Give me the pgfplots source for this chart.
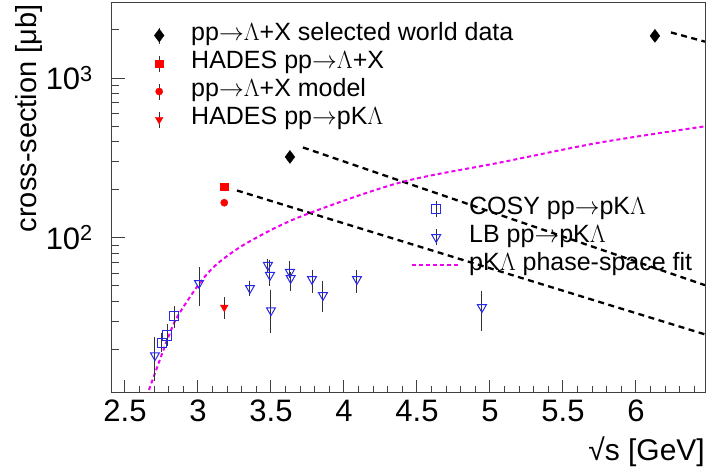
\documentclass[border=0pt]{standalone}
\usepackage{fontspec}
\setmainfont{Liberation Sans}
\usepackage{pgfplots}
\pgfplotsset{compat=1.18}

\definecolor{rblue}{RGB}{40,40,235}
\definecolor{rmag}{RGB}{240,0,240}

\newcommand{\ar}{$\rightarrow$}
\newcommand{\La}{$\Lambda$}

\pgfplotsset{
  marklegend/.style={
    legend image code/.code={
      \path[draw=none,fill=none] (0bp,0bp) -- (48bp,0bp);
      \draw[black!80,line width=0.9bp] (24bp,-8bp) -- (24bp,8bp);
      \draw[mark repeat=2,mark phase=2,##1] plot coordinates {(0bp,0bp) (24bp,0bp) (48bp,0bp)};
    }
  },
  linelegend/.style={
    legend image code/.code={\draw[##1] (0bp,0bp) -- (48bp,0bp);}
  },
  errs/.style={
    error bars/y dir=both, error bars/y explicit,
    error bars/error bar style={black!80, line width=1bp},
    error bars/error mark options={black!80, line width=1bp, mark size=2.5bp},
  },
}

\begin{document}
\begin{tikzpicture}
\begin{axis}[
  scale only axis, width=593bp, height=390bp,
  at={(0bp,0bp)}, anchor=south west,
  xmin=2.411, xmax=6.473,
  ymode=log, ymin=10.7, ymax=2950,
  axis line style={black!75, line width=1bp},
  tick pos=left,
  xtick={2.5,3,3.5,4,4.5,5,5.5,6},
  xticklabels={2.5,3,3.5,4,4.5,5,5.5,6},
  minor xtick={2.6,2.7,2.8,2.9,3.1,3.2,3.3,3.4,3.6,3.7,3.8,3.9,4.1,4.2,4.3,4.4,4.6,4.7,4.8,4.9,5.1,5.2,5.3,5.4,5.6,5.7,5.8,5.9,6.1,6.2,6.3,6.4},
  ytick={100,1000},
  yticklabels={10\textsuperscript{2},10\textsuperscript{3}},
  minor ytick={20,30,40,50,60,70,80,90,200,300,400,500,600,700,800,900,2000},
  tick style={black!75, line width=1bp},
  major tick length=13bp, minor tick length=7bp,
  tick label style={font=\fontsize{31bp}{36bp}\selectfont},
  xticklabel style={inner sep=0pt, yshift=-7bp},
  yticklabel style={inner sep=0pt, xshift=-19bp},
  xlabel={√s [GeV]},
  ylabel={cross-section [μb]},
  xlabel style={at={(axis description cs:1,-0.174)}, anchor=base east, inner sep=0pt, font=\fontsize{30bp}{34bp}\selectfont},
  ylabel style={at={(axis description cs:-0.1164,0.997)}, anchor=south east, inner sep=0pt, font=\fontsize{29bp}{33bp}\selectfont},
  legend style={draw=none, fill=none, inner sep=0pt, row sep=0pt, column sep=8bp,
    font=\fontsize{25bp}{28bp}\selectfont,
    nodes={inner sep=0pt, text height=19bp, text depth=9bp},
    at={(axis description cs:0.0388,0.953)}, anchor=north west},
  legend cell align=left,
]
% parametrisations
\addplot[black, line width=2.3bp, dash pattern=on 6bp off 4.5bp, forget plot] coordinates {(3.267,198) (6.473,24.9)};
\addplot[black, line width=2.3bp, dash pattern=on 6bp off 4.5bp, forget plot] coordinates {(3.719,368) (6.473,50.6)};
\addplot[black, line width=2.3bp, dash pattern=on 6bp off 4.5bp, forget plot] coordinates {(6.24,1930) (6.473,1690)};

\addplot[only marks, mark=diamond*, mark size=6.5bp, black, marklegend] coordinates {(3.63,321) (6.13,1837)};
\addlegendentry{pp\ar\La+X selected world data}
\addplot[only marks, mark=square*, mark size=3.6bp, red, marklegend] coordinates {(3.18,209)};
\addlegendentry{HADES pp\ar\La+X}
\addplot[only marks, mark=*, mark size=3.6bp, red, marklegend] coordinates {(3.18,166)};
\addlegendentry{pp\ar\La+X model}
\addplot[only marks, mark=triangle*, mark size=4.5bp, mark options={rotate=180}, red, marklegend, errs] coordinates {(3.18,36.8) +- (0,4.5)};
\addlegendentry{HADES pp\ar pK\La}
\end{axis}

\begin{axis}[
  scale only axis, width=593bp, height=390bp,
  at={(0bp,0bp)}, anchor=south west,
  xmin=2.411, xmax=6.473,
  ymode=log, ymin=10.7, ymax=2950,
  hide axis,
  legend style={draw=none, fill=none, inner sep=0pt, row sep=0pt, column sep=8bp,
    font=\fontsize{25bp}{28bp}\selectfont,
    nodes={inner sep=0pt, text height=19bp, text depth=9bp},
    at={(axis description cs:0.5042,0.5077)}, anchor=north west},
  legend cell align=left,
]
\addplot[rmag, line width=2bp, dash pattern=on 4bp off 3bp, smooth, forget plot] coordinates {
  (2.640,9.2) (2.651,10.3) (2.705,14.2) (2.788,22.8) (2.856,31.8) (3.007,51.4)
  (3.130,68.6) (3.336,93.0) (3.699,135.5) (4.384,222) (5.068,296) (5.753,395) (6.473,499)};

\addplot[only marks, mark=square, mark size=4.6bp, rblue, mark options={line width=1bp}, marklegend, errs] coordinates {
  (2.753,21.9) += (0,2.7) -= (0,1.8)
  (2.788,24.5) += (0,3.2) -= (0,2.8)
  (2.836,32.3) += (0,3.9) -= (0,3.9)};
\addlegendentry{COSY pp\ar pK\La}

\addplot[only marks, mark=triangle, mark size=5.2bp, rblue, mark options={rotate=180, line width=1bp}, marklegend, errs] coordinates {
  (2.705,18.4) += (0,4.8) -= (0,5.2)
  (3.007,52.1) += (0,10.9) -= (0,13.1)
  (3.356,48.5) += (0,3.6) -= (0,3.4)
  (3.479,67.6) += (0,4.0) -= (0,3.8)
  (3.493,58.5) += (0,12.0) -= (0,6.4)
  (3.500,35.2) += (0,10.5) -= (0,8.8)
  (3.630,61.1) += (0,8.5) -= (0,3.0)
  (3.635,56.0) += (0,3.0) -= (0,7.5)
  (3.781,55.2) += (0,5.9) -= (0,8.1)
  (3.856,43.8) += (0,8.3) -= (0,8.0)
  (4.089,55.2) += (0,5.9) -= (0,8.1)
  (4.945,36.8) += (0,8.3) -= (0,9.7)};
\addlegendentry{LB pp\ar pK\La}

\addlegendimage{rmag, line width=2bp, dash pattern=on 4bp off 3bp, linelegend}
\addlegendentry{pK\La{} phase-space fit}
\end{axis}
\pgfresetboundingbox
\path (-112bp,-78bp) rectangle (598bp,393bp);
\end{tikzpicture}
\end{document}
